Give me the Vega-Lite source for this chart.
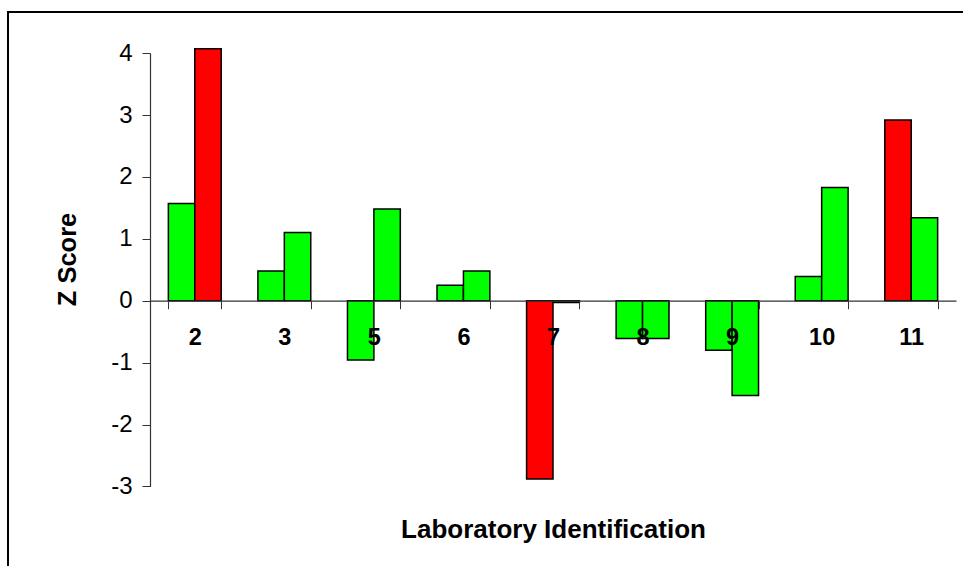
{
  "$schema": "https://vega.github.io/schema/vega-lite/v6.json",
  "autosize": {"type": "none"},
  "padding": {"left": 8, "top": 12, "right": 0, "bottom": 0},
  "width": 963,
  "height": 566,
  "background": "white",
  "config": {
    "view": {"stroke": "black", "strokeWidth": 2},
    "font": "Liberation Sans"
  },
  "data": {
    "values": [
      {"lab": "2", "series": "A", "z": 1.57, "status": "ok"},
      {"lab": "2", "series": "B", "z": 4.07, "status": "out"},
      {"lab": "3", "series": "A", "z": 0.48, "status": "ok"},
      {"lab": "3", "series": "B", "z": 1.10, "status": "ok"},
      {"lab": "5", "series": "A", "z": -0.96, "status": "ok"},
      {"lab": "5", "series": "B", "z": 1.48, "status": "ok"},
      {"lab": "6", "series": "A", "z": 0.25, "status": "ok"},
      {"lab": "6", "series": "B", "z": 0.48, "status": "ok"},
      {"lab": "7", "series": "A", "z": -2.88, "status": "out"},
      {"lab": "7", "series": "B", "z": -0.03, "status": "ok"},
      {"lab": "8", "series": "A", "z": -0.61, "status": "ok"},
      {"lab": "8", "series": "B", "z": -0.61, "status": "ok"},
      {"lab": "9", "series": "A", "z": -0.80, "status": "ok"},
      {"lab": "9", "series": "B", "z": -1.53, "status": "ok"},
      {"lab": "10", "series": "A", "z": 0.39, "status": "ok"},
      {"lab": "10", "series": "B", "z": 1.83, "status": "ok"},
      {"lab": "11", "series": "A", "z": 2.92, "status": "out"},
      {"lab": "11", "series": "B", "z": 1.34, "status": "ok"}
    ]
  },
  "mark": {"type": "bar", "stroke": "black", "strokeWidth": 1.5, "clip": false},
  "encoding": {
    "x": {
      "field": "lab",
      "type": "nominal",
      "sort": null,
      "scale": {"range": [142, 948], "paddingInner": 0.41, "paddingOuter": 0.205},
      "axis": {
        "zindex": 1,
        "title": "Laboratory Identification",
        "titleFont": "Liberation Sans",
        "titleFontSize": 26,
        "titleFontWeight": "bold",
        "titleColor": "black",
        "titleBaseline": "middle",
        "titleY": 229,
        "offset": -277.3,
        "labelAngle": 0,
        "labelFont": "Liberation Sans",
        "labelFontSize": 23.5,
        "labelFontWeight": "bold",
        "labelColor": "black",
        "labelBaseline": "middle",
        "labelPadding": 29,
        "tickBand": "extent",
        "tickSize": 8,
        "tickColor": "#333",
        "domainColor": "#333",
        "domainWidth": 1.2,
        "grid": false
      }
    },
    "xOffset": {
      "field": "series",
      "type": "nominal",
      "scale": {"paddingInner": 0, "paddingOuter": 0}
    },
    "y": {
      "field": "z",
      "type": "quantitative",
      "scale": {"domain": [-3, 4], "range": [474.4, 41.1], "nice": false, "zero": false},
      "axis": {
        "title": "Z Score",
        "titleFont": "Liberation Sans",
        "titleFontSize": 25.5,
        "titleFontWeight": "bold",
        "titleColor": "black",
        "titleAngle": -90,
        "titleAlign": "center",
        "titleBaseline": "middle",
        "titleX": -83,
        "titleY": 247,
        "offset": -142,
        "values": [-3, -2, -1, 0, 1, 2, 3, 4],
        "labelExpr": "datum.value + ''",
        "labelFont": "Liberation Sans",
        "labelFontSize": 24,
        "labelColor": "black",
        "labelPadding": 10,
        "tickSize": 8,
        "tickColor": "#333",
        "domainColor": "#333",
        "domainWidth": 1.2,
        "grid": false
      }
    },
    "color": {
      "field": "status",
      "type": "nominal",
      "scale": {"domain": ["ok", "out"], "range": ["#00FF00", "#FF0000"]},
      "legend": null
    }
  }
}
